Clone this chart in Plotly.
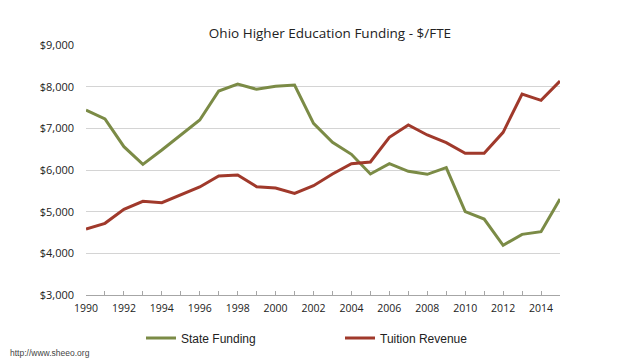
import plotly.graph_objects as go

years = list(range(1990, 2016))
state_funding = [7440, 7224, 6560, 6136, 6480, 6840, 7200, 7896, 8064, 7936, 8008, 8040,
                 7120, 6664, 6376, 5904, 6152, 5968, 5896, 6056, 5000, 4824, 4192, 4456, 4520, 5304]
tuition_revenue = [4584, 4720, 5056, 5248, 5216, 5408, 5592, 5856, 5880, 5600, 5568, 5440,
                   5624, 5904, 6152, 6192, 6784, 7080, 6840, 6656, 6400, 6400, 6904, 7824, 7672, 8136]
x_tick_labels = [str(y) for y in range(1990, 2015, 2)]
y_ticks = [3000, 4000, 5000, 6000, 7000, 8000, 9000]

# page body has an 8px margin, so the figure is laid out 8px smaller and shifted
W, H = 630, 351
L, R, T, B = 78, 78, 37, 64
PW, PH = W - L - R, H - T - B

fig = go.Figure()
fig.add_trace(go.Scatter(x=years, y=state_funding, mode="lines", name="State Funding",
                         line=dict(color="#7B8B46", width=3)))
fig.add_trace(go.Scatter(x=years, y=tuition_revenue, mode="lines", name="Tuition Revenue",
                         line=dict(color="#A0392B", width=3)))

fig.update_layout(
    width=W, height=H,
    margin=dict(l=L, r=R, t=T, b=B, autoexpand=False),
    paper_bgcolor="white", plot_bgcolor="white",
    title=dict(text="Ohio Higher Education Funding - $/FTE", x=322 / W, xanchor="center",
               y=1 - 25 / H, yanchor="middle",
               font=dict(family="Open Sans", size=13.5, color="#222222")),
    font=dict(family="Open Sans", size=11, color="#222222"),
    showlegend=True,
    legend=dict(orientation="h", x=(133 - L) / PW, xanchor="left", y=(PH - (330 - T)) / PH, yanchor="middle",
                entrywidth=154, entrywidthmode="pixels", itemwidth=30,
                font=dict(family="Liberation Sans", size=12, color="#222222")),
    xaxis=dict(range=[1990, 2015], tickvals=[int(t) for t in x_tick_labels], ticktext=x_tick_labels,
               ticks="inside", ticklen=4, tickcolor="#A6A6A6", showline=True, linecolor="#A6A6A6",
               showgrid=False, zeroline=False, automargin=False, ticklabelstandoff=3,
               tickfont=dict(size=10.5),
               minor=dict(dtick=1, tick0=1990, ticks="inside", ticklen=4, tickcolor="#A6A6A6", showgrid=False)),
    yaxis=dict(range=[3000, 9000], tickvals=y_ticks, tickformat="$,.0f", showgrid=True,
               gridcolor="#D4D4D4", gridwidth=1, zeroline=False, showline=False, ticks="",
               ticklabelstandoff=11, automargin=False),
    annotations=[dict(text="http://www.sheeo.org", xref="paper", yref="paper",
                      x=(0 - L) / PW, y=(PH - (344.5 - T)) / PH, xanchor="left", yanchor="middle",
                      showarrow=False, font=dict(family="Liberation Sans", size=8.5, color="#444444"))],
)

fig.write_html("out.html")
